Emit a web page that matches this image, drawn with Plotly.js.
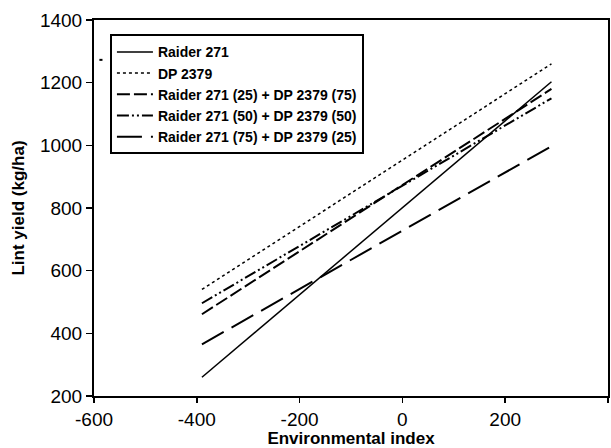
<!DOCTYPE html>
<html>
<head>
<meta charset="utf-8">
<script src="https://cdn.plot.ly/plotly-3.0.1.min.js"></script>
<style>html,body{margin:0;padding:0;background:#fff;}#chart{width:611px;height:448px;}</style>
</head>
<body>
<div id="chart"></div>
<script>
// Environmental index endpoints for each regression line
const envIndex = [-390, 290];
// Lint yield (kg/ha) at those endpoints
const raider271 = [260, 1203];
const dp2379 = [540, 1260];
const mix25_75 = [461, 1180];
const mix50_50 = [496, 1150];
const mix75_25 = [365, 997];

const seriesNames = [
  "Raider 271",
  "DP 2379",
  "Raider 271 (25) + DP 2379 (75)",
  "Raider 271 (50) + DP 2379 (50)",
  "Raider 271 (75) + DP 2379 (25)"
];
const seriesValues = [raider271, dp2379, mix25_75, mix50_50, mix75_25];
const dashes = ["solid", "dot", "13px,4px", "12px,3px,2px,3px,2px,3px", "25px,9px"];
const widths = [1.5, 1.5, 2, 2, 2];

const xTicks = [-600, -400, -200, 0, 200, 400];
const yTicks = [200, 400, 600, 800, 1000, 1200, 1400];

const traces = seriesValues.map((v, i) => ({
  x: envIndex, y: v, name: seriesNames[i], type: "scatter", mode: "lines",
  line: {color: "#000", width: widths[i], dash: dashes[i]}
}));

const font = {family: "Liberation Sans, Arial, sans-serif", color: "#000"};

const layout = {
  width: 611, height: 448,
  margin: {l: 94, r: 3, t: 20, b: 52},
  paper_bgcolor: "#fff", plot_bgcolor: "#fff",
  showlegend: true,
  legend: {
    x: 0.031, y: 0.962, xanchor: "left", yanchor: "top",
    bordercolor: "#000", borderwidth: 2, bgcolor: "#fff",
    font: Object.assign({}, font, {size: 14, weight: "bold"}),
    itemwidth: 36, tracegroupgap: 0
  },
  xaxis: {
    range: [-600, 400], tickvals: xTicks, ticktext: xTicks.map(String),
    showgrid: false, zeroline: false, showline: true, linecolor: "#000", linewidth: 2,
    mirror: true, ticks: "outside", ticklen: 5, tickwidth: 1.5, tickcolor: "#000",
    tickfont: Object.assign({}, font, {size: 19}),
    title: {text: "Environmental index", font: Object.assign({}, font, {size: 17, weight: "bold"}), standoff: 4}
  },
  yaxis: {
    range: [200, 1400], tickvals: yTicks, ticktext: yTicks.map(String),
    showgrid: false, zeroline: false, showline: true, linecolor: "#000", linewidth: 2,
    mirror: true, ticks: "outside", ticklen: 6, tickwidth: 1.5, tickcolor: "#000",
    tickfont: Object.assign({}, font, {size: 19}),
    title: {text: "Lint yield (kg/ha)", font: Object.assign({}, font, {size: 17, weight: "bold"}), standoff: 11}
  },
  shapes: [{type: "line", xref: "paper", yref: "paper", x0: 0.0105, x1: 0.0165, y0: 0.894, y1: 0.894,
            line: {color: "#000", width: 2}}]
};

Plotly.newPlot("chart", traces, layout, {staticPlot: true, displayModeBar: false});
</script>
</body>
</html>
